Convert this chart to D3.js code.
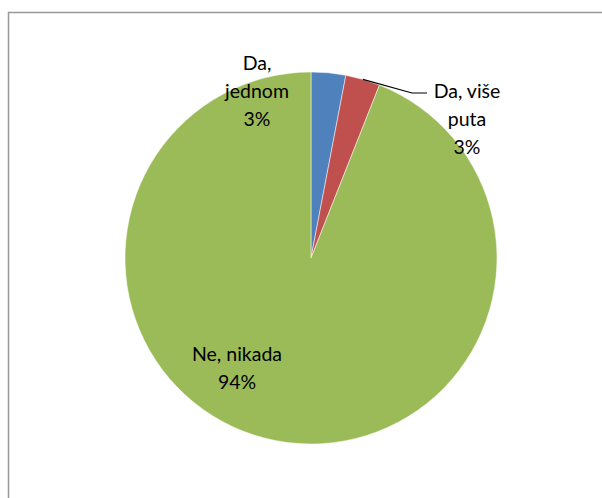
<!DOCTYPE html>
<html>
<head>
<meta charset="utf-8">
<script src="https://cdn.jsdelivr.net/npm/d3@7"></script>
<style>
  body { margin: 0; background: #fff; }
  text { font-family: Lato, "Open Sans", sans-serif; font-size: 19.5px; fill: #000; }
</style>
</head>
<body>
<div id="chart"></div>
<script>
var categories = ["Da, jednom", "Da, više puta", "Ne, nikada"];
var values = [3, 3, 94];
var labelLines = [["Da,", "jednom", "3%"], ["Da, više", "puta", "3%"], ["Ne, nikada", "94%"]];
var colors = ["#4F81BD", "#C0504D", "#9BBB59"];

var width = 602, height = 498;
var cx = 311, cy = 258, radius = 186;

var svg = d3.select("#chart").append("svg")
    .attr("width", width)
    .attr("height", height);

// chart area border
svg.append("rect")
    .attr("x", 8.5).attr("y", 12.5)
    .attr("width", 620).attr("height", 520)
    .attr("fill", "none")
    .attr("stroke", "#989898")
    .attr("stroke-width", 1.5);

var g = svg.append("g").attr("transform", "translate(" + cx + "," + cy + ")");

var pie = d3.pie().sort(null).value(function(d) { return d; });
var arc = d3.arc().innerRadius(0).outerRadius(radius);
var arcs = pie(values);

g.selectAll("path.slice")
    .data(arcs)
    .enter().append("path")
    .attr("class", "slice")
    .attr("d", arc)
    .attr("fill", function(d, i) { return colors[i]; })
    .attr("stroke", "#fff")
    .attr("stroke-width", 0.5);

// label anchors (offset from pie center)
var labelPos = [{x: -54, y: -195}, {x: 156, y: -167}, {x: -74, y: 96}];
var lineH = 28;

labelLines.forEach(function(lines, i) {
    var t = g.append("text")
        .attr("text-anchor", "middle")
        .attr("x", labelPos[i].x)
        .attr("y", labelPos[i].y);
    lines.forEach(function(s, k) {
        t.append("tspan")
            .attr("x", labelPos[i].x)
            .attr("dy", k === 0 ? "0.35em" : lineH)
            .text(s);
    });
});

// leader line for the small red slice
var a = (arcs[1].startAngle + arcs[1].endAngle) / 2;
var p0 = [radius * Math.sin(a), -radius * Math.cos(a)];
g.append("polyline")
    .attr("points", [p0, [101, -165], [116, -165]].map(function(p) { return p.join(","); }).join(" "))
    .attr("fill", "none")
    .attr("stroke", "#000")
    .attr("stroke-width", 1.2);
</script>
</body>
</html>
